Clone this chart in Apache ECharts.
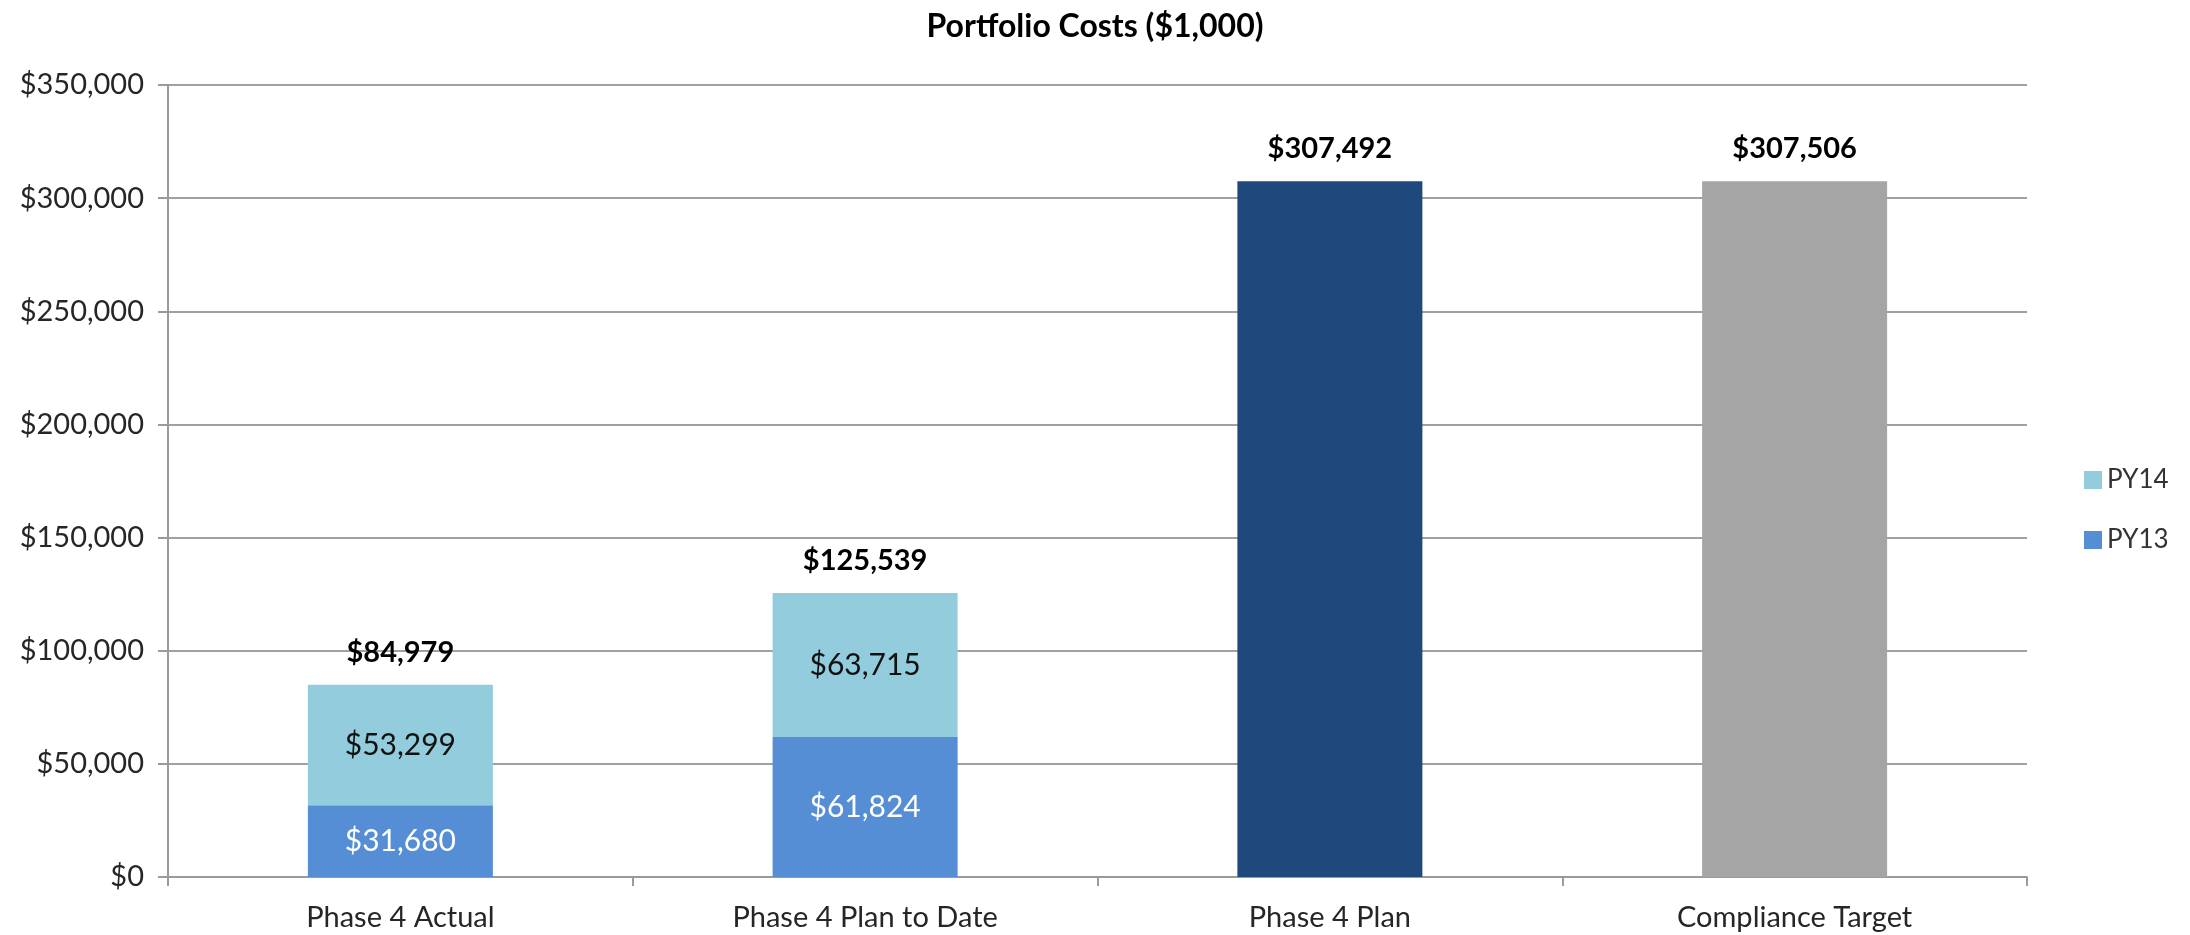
<!DOCTYPE html>
<html>
<head>
<meta charset="utf-8">
<title>Portfolio Costs</title>
<script src="https://cdn.jsdelivr.net/npm/echarts@6/dist/echarts.min.js"></script>
<style>
    html, body { margin: 0; padding: 0; background: #fff; }
    #chart { width: 2190px; height: 935px; }
</style>
</head>
<body>
<div id="chart"></div>
<script>
// data
var categories = ['Phase 4 Actual', 'Phase 4 Plan to Date', 'Phase 4 Plan', 'Compliance Target'];
var py13 = [31680, 61824, null, null];
var py14 = [53299, 63715, null, null];
var planValues = [null, null, 307492, 307506];
var yTicks = [0, 50000, 100000, 150000, 200000, 250000, 300000, 350000];

// total on top of each bar
var totals = categories.map(function (c, i) {
    return (py13[i] || 0) + (py14[i] || 0) + (planValues[i] || 0);
});

var fontName = 'Lato, "Open Sans", sans-serif';

function money(v) {
    return '$' + Number(v).toLocaleString('en-US');
}

var myChart = echarts.init(document.getElementById('chart'));

var option = {
    animation: false,
    textStyle: { fontFamily: fontName },
    title: {
        text: 'Portfolio Costs ($1,000)',
        left: 'center',
        top: 6,
        textStyle: { fontSize: 32, fontWeight: 'bold', color: '#000', fontFamily: fontName }
    },
    legend: {
        data: ['PY14', 'PY13'],
        orient: 'vertical',
        left: 2079,
        top: 462,
        itemWidth: 18,
        itemHeight: 18,
        itemGap: 34,
        icon: 'rect',
        textStyle: { fontSize: 26, color: '#333', fontFamily: fontName }
    },
    grid: {
        left: 168,
        right: 163,
        top: 85,
        bottom: 58
    },
    xAxis: [
        {
            type: 'category',
            data: categories,
            axisLine: { lineStyle: { color: '#9a9a9a', width: 2 } },
            axisTick: { show: true, length: 9, lineStyle: { color: '#9a9a9a', width: 2 } },
            axisLabel: { fontSize: 29, color: '#262626', margin: 26, fontFamily: fontName }
        }
    ],
    yAxis: [
        {
            type: 'value',
            min: yTicks[0],
            max: yTicks[yTicks.length - 1],
            interval: yTicks[1] - yTicks[0],
            axisLine: { show: true, lineStyle: { color: '#9a9a9a', width: 2 } },
            axisTick: { show: true, length: 10, lineStyle: { color: '#9a9a9a', width: 2 } },
            splitLine: { lineStyle: { color: '#a0a0a0', width: 2 } },
            axisLabel: {
                fontSize: 29,
                color: '#262626',
                margin: 24,
                fontFamily: fontName,
                formatter: function (v) { return money(v); }
            }
        }
    ],
    series: [
        {
            name: 'PY13',
            type: 'bar',
            stack: 'cost',
            barWidth: 185,
            data: py13,
            itemStyle: { color: '#558ED5' },
            label: {
                show: true,
                position: 'inside',
                color: '#fff',
                fontSize: 30,
                fontFamily: fontName,
                formatter: function (p) { return money(p.value); }
            }
        },
        {
            name: 'PY14',
            type: 'bar',
            stack: 'cost',
            barWidth: 185,
            data: py14,
            itemStyle: { color: '#93CDDD' },
            label: {
                show: true,
                position: 'inside',
                color: '#111',
                fontSize: 30,
                fontFamily: fontName,
                formatter: function (p) { return money(p.value); }
            }
        },
        {
            name: 'Plan',
            type: 'bar',
            stack: 'cost',
            barWidth: 185,
            data: planValues.map(function (v, i) {
                return { value: v, itemStyle: { color: i === 2 ? '#1F497D' : '#A5A5A5' } };
            })
        },
        {
            // zero-height bar used only to hold the total label
            name: 'Total',
            type: 'bar',
            stack: 'cost',
            barWidth: 185,
            data: categories.map(function () { return 0; }),
            itemStyle: { color: 'transparent' },
            label: {
                show: true,
                position: 'top',
                distance: 18,
                color: '#000',
                fontSize: 29,
                fontWeight: 'bold',
                fontFamily: fontName,
                formatter: function (p) { return money(totals[p.dataIndex]); }
            }
        }
    ]
};

myChart.setOption(option);
</script>
</body>
</html>
